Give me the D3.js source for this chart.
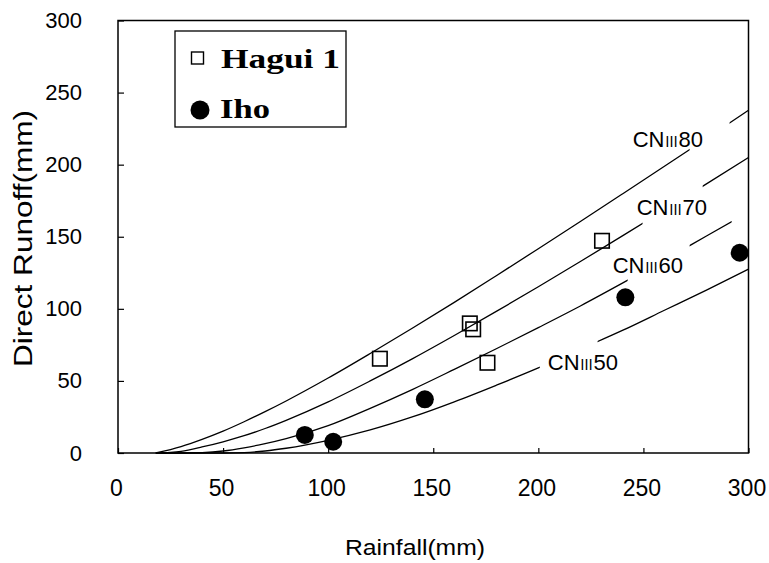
<!DOCTYPE html>
<html><head><meta charset="utf-8">
<script src="https://cdn.jsdelivr.net/npm/d3@7"></script>
<style>body{margin:0;background:#fff} svg{display:block;background:#fff}</style>
</head><body>
<svg id="chart" width="769" height="563"></svg>
<script>
// ---- data ----
const rainfall   = [18, 30, 40, 50, 60, 70, 80, 100, 120, 140, 160, 180, 200, 220, 240, 260, 280, 300];
const runoffCN80 = [0, 4.5, 9.5, 15.2, 21.7, 28.7, 36.1, 52, 69, 86.5, 104.5, 123, 141.7, 160.6, 179.7, 198.9, 218.2, 237.8];
const runoffCN70 = [0, 1.2, 4.2, 7.8, 12, 17, 22.7, 35.5, 50, 65.3, 81.5, 98.2, 115.3, 132.8, 150.6, 168.6, 186.7, 205];
const runoffCN60 = [0, 0, 0.3, 1.4, 3.6, 6.5, 10, 19, 31, 44, 58, 72.3, 87, 102, 117.8, 134, 150.5, 167];
const runoffCN50 = [0, 0, 0, 0, 0.3, 1.4, 3.3, 8.8, 16, 25, 35.5, 47, 59, 72, 85, 99, 113, 127.5];
const curveNames = ["80", "70", "60", "50"];
const haguiRain   = [124.6, 167.4, 169, 175.8, 230.3];
const haguiRunoff = [65.4, 89.9, 85.8, 62.6, 147.2];
const ihoRain     = [88.9, 102.4, 146, 241.4, 295.8];
const ihoRunoff   = [12.5, 7.8, 37.2, 108, 138.9];
const xTicks = [0, 50, 100, 150, 200, 250, 300];
const yTicks = [0, 50, 100, 150, 200, 250, 300];
const seriesNames = ["Hagui 1", "Iho"];

// ---- annotation layout (data units) ----
const curveGaps = [[[272, 291]], [[249.6, 278.2]], [[242.5, 272], [292, 301]], [[200.7, 228.2]]];
const labelRain   = [244.9, 246.8, 235.4, 204.5];
const labelRunoff = [212.2, 165, 124.8, 57.6];

const svg = d3.select("#chart");
const W = 769, H = 563;
const x = d3.scaleLinear().domain([0, 300]).range([118, 748.5]);
const y = d3.scaleLinear().domain([0, 300]).range([453, 20.5]);
const SANS = "'Liberation Sans', Arial, Helvetica, sans-serif";

// axes
const gx = svg.append("g").attr("transform", `translate(0,${y(0)})`)
  .call(d3.axisBottom(x).tickValues(xTicks).tickSizeInner(-5).tickSizeOuter(0).tickPadding(27));
gx.select(".domain").remove();
gx.selectAll("text").attr("font-size", 23).attr("font-family", SANS).attr("fill", "#000").attr("dx", -2);
gx.selectAll("line").attr("stroke", "#000").attr("stroke-width", 1.2);

const gy = svg.append("g").attr("transform", `translate(${x(0)},0)`)
  .call(d3.axisLeft(y).tickValues(yTicks).tickSizeInner(-6).tickSizeOuter(0).tickPadding(36));
gy.select(".domain").remove();
gy.selectAll("text").attr("font-size", 22).attr("font-family", SANS).attr("fill", "#000");
gy.selectAll("line").attr("stroke", "#000").attr("stroke-width", 1.2);

// frame
svg.append("rect")
  .attr("x", x(0)).attr("y", y(300))
  .attr("width", x(300) - x(0)).attr("height", y(0) - y(300))
  .attr("fill", "none").attr("stroke", "#000").attr("stroke-width", 1.5);

// curves
const curveSeries = [runoffCN80, runoffCN70, runoffCN60, runoffCN50];
const line = d3.line().x(d => x(d[0])).y(d => y(d[1])).curve(d3.curveMonotoneX);
const defs = svg.append("defs");
curveSeries.forEach((vals, i) => {
  const gaps = curveGaps[i];
  const cp = defs.append("clipPath").attr("id", "clip" + i);
  let start = -10;
  gaps.forEach(g => {
    cp.append("rect").attr("x", x(start)).attr("y", 0).attr("width", x(g[0]) - x(start)).attr("height", H);
    start = g[1];
  });
  if (start < 300) cp.append("rect").attr("x", x(start)).attr("y", 0).attr("width", x(310) - x(start)).attr("height", H);
  const pts = rainfall.map((r, j) => [r, vals[j]]);
  svg.append("path").attr("d", line(pts)).attr("fill", "none")
    .attr("stroke", "#000").attr("stroke-width", 1.3).attr("clip-path", `url(#clip${i})`);

  const t = svg.append("text").attr("x", x(labelRain[i])).attr("y", y(labelRunoff[i]))
    .attr("font-family", SANS).attr("font-size", 22).attr("fill", "#000");
  t.append("tspan").text("CN");
  t.append("tspan").attr("font-size", 14).attr("font-family", "'Noto Sans CJK JP', 'DejaVu Sans', sans-serif").text("Ⅲ");
  t.append("tspan").text(curveNames[i]);
});

// points
const sq = 14.5;
svg.append("g").selectAll("rect").data(haguiRain.map((r, i) => [r, haguiRunoff[i]])).join("rect")
  .attr("x", d => x(d[0]) - sq / 2).attr("y", d => y(d[1]) - sq / 2)
  .attr("width", sq).attr("height", sq)
  .attr("fill", "none").attr("stroke", "#000").attr("stroke-width", 1.6);
svg.append("g").selectAll("circle").data(ihoRain.map((r, i) => [r, ihoRunoff[i]])).join("circle")
  .attr("cx", d => x(d[0])).attr("cy", d => y(d[1])).attr("r", 9).attr("fill", "#000");

// axis titles
svg.append("text").attr("transform", "translate(32,238.5) rotate(-90)")
  .attr("text-anchor", "middle").attr("font-family", SANS).attr("font-size", 25)
  .attr("textLength", 257).attr("lengthAdjust", "spacingAndGlyphs").text("Direct Runoff(mm)");
svg.append("text").attr("x", 415).attr("y", 555)
  .attr("text-anchor", "middle").attr("font-family", SANS).attr("font-size", 22)
  .attr("textLength", 140).attr("lengthAdjust", "spacingAndGlyphs").text("Rainfall(mm)");

// legend
const lg = svg.append("g");
lg.append("rect").attr("x", 175).attr("y", 31).attr("width", 171).attr("height", 96)
  .attr("fill", "#fff").attr("stroke", "#000").attr("stroke-width", 1.3);
lg.append("rect").attr("x", 191.5).attr("y", 52).attr("width", 12).attr("height", 12)
  .attr("fill", "none").attr("stroke", "#000").attr("stroke-width", 1.4);
lg.append("circle").attr("cx", 200).attr("cy", 110).attr("r", 9.5).attr("fill", "#000");
const SERIF = "'Liberation Serif', 'Times New Roman', serif";
lg.append("text").attr("x", 221).attr("y", 68).attr("font-family", SERIF).attr("font-size", 27)
  .attr("font-weight", "bold").attr("textLength", 119).attr("lengthAdjust", "spacingAndGlyphs").text(seriesNames[0]);
lg.append("text").attr("x", 220).attr("y", 118).attr("font-family", SERIF).attr("font-size", 27)
  .attr("font-weight", "bold").attr("textLength", 50).attr("lengthAdjust", "spacingAndGlyphs").text(seriesNames[1]);
</script>
</body></html>
